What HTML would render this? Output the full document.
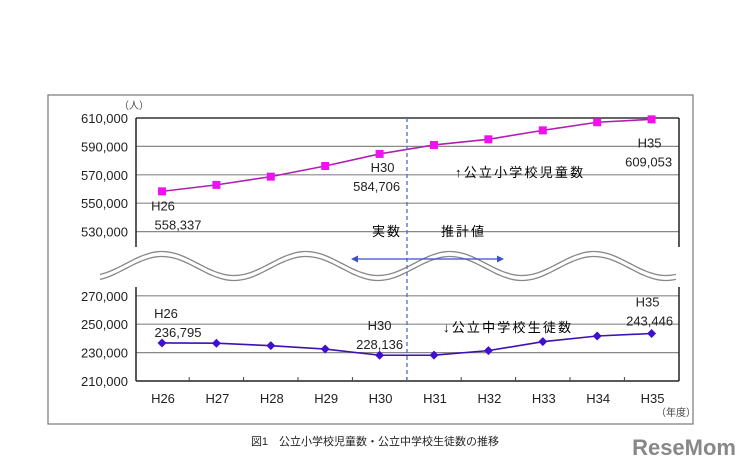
<!DOCTYPE html>
<html><head><meta charset="utf-8"><style>
html,body{margin:0;padding:0;background:#fff;}
svg text{font-family:"Liberation Sans","Noto Sans CJK JP",sans-serif;}
</style></head><body>
<svg width="746" height="468" viewBox="0 0 746 468" xmlns="http://www.w3.org/2000/svg">
<rect x="48" y="95" width="645" height="329" fill="#fff" stroke="#777" stroke-width="1.2"/>
<g id="wave"></g>
<g id="topg"></g>
<g id="botg"></g>
<line x1="407" y1="118" x2="407" y2="381" stroke="#4a6fc0" stroke-width="1.3" stroke-dasharray="4,3"/>
<g>
<line x1="356" y1="259" x2="499" y2="259" stroke="#3b4fc8" stroke-width="1.3"/>
<polygon points="351,259 358,255.5 358,262.5" fill="#3b4fc8"/>
<polygon points="504,259 497,255.5 497,262.5" fill="#3b4fc8"/>
</g>
<text x="372" y="236" font-size="13" letter-spacing="2">実数</text>
<text x="441" y="236" font-size="13" letter-spacing="2">推計値</text>
<text x="455" y="177" font-size="13" letter-spacing="2.2">↑公立小学校児童数</text>
<text x="443" y="332" font-size="13" letter-spacing="2.2">↓公立中学校生徒数</text>
<text x="119" y="109" font-size="10" fill="#444">（人）</text>
<text x="656" y="416" font-size="10" fill="#444">（年度）</text>
<text x="375" y="445" font-size="11" text-anchor="middle" fill="#222">図1　公立小学校児童数・公立中学校生徒数の推移</text>
<text x="736" y="455" font-size="22" font-weight="bold" text-anchor="end" fill="#888">ReseMom</text>
</svg>
<script>
const years=["H26","H27","H28","H29","H30","H31","H32","H33","H34","H35"];
const elementary=[558337,562900,568700,576200,584706,591000,595000,601300,607000,609053];
const juniorHigh=[236795,236600,234900,232500,228136,228200,231400,237700,241700,243446];
const topTicks=[530000,550000,570000,590000,610000];
const botTicks=[210000,230000,250000,270000];
const NS="http://www.w3.org/2000/svg";
function mk(p,t,a){const e=document.createElementNS(NS,t);for(const k in a)e.setAttribute(k,a[k]);p.appendChild(e);return e;}
const X0=136,X1=679;
const xs=i=>162+i*54.4;
const yTop=v=>118+(610000-v)/20000*28.4;
const yBot=v=>381-(v-210000)/20000*28.4;
function lab(p,x,y,s,name){const t=mk(p,'text',{x:x,y:y,'font-size':13,'text-anchor':'middle',fill:'#222'});t.textContent=s;
 
 }
const topG=document.getElementById('topg');
topTicks.forEach(t=>{const y=yTop(t);
 const l=mk(topG,'line',{x1:X0,x2:X1,y1:y,y2:y,stroke:t==610000?'#333':'#888','stroke-width':t==610000?1.5:1.2});
 
 
 const tx=mk(topG,'text',{x:X0-8,y:y+5,'font-size':13,'text-anchor':'end',fill:'#222'});tx.textContent=t.toLocaleString('en-US');
 
 
});
mk(topG,'line',{x1:X0,x2:X0,y1:118,y2:247,stroke:'#222','stroke-width':1.5});
mk(topG,'line',{x1:X1,x2:X1,y1:118,y2:247,stroke:'#222','stroke-width':1.5});
const pl=mk(topG,'polyline',{points:elementary.map((v,i)=>xs(i)+','+yTop(v)).join(' '),fill:'none',stroke:'#b020b0','stroke-width':1.6});


elementary.forEach((v,i)=>{const r=mk(topG,'rect',{x:xs(i)-4,y:yTop(v)-4,width:8,height:8,fill:'#f010f0'});
 
 });
lab(topG,xs(0)+1,yTop(elementary[0])+19,years[0],'value-label');
lab(topG,xs(0)+16,yTop(elementary[0])+38,elementary[0].toLocaleString('en-US'),'value-label');
lab(topG,xs(4)+3,yTop(elementary[4])+18,years[4],'value-label');
lab(topG,xs(4)-3,yTop(elementary[4])+37,elementary[4].toLocaleString('en-US'),'value-label');
lab(topG,xs(9)-2,yTop(elementary[9])+28,years[9],'value-label');
lab(topG,xs(9)-3,yTop(elementary[9])+47,elementary[9].toLocaleString('en-US'),'value-label');
const botG=document.getElementById('botg');
botTicks.forEach(t=>{const y=yBot(t);
 const l=mk(botG,'line',{x1:X0,x2:X1,y1:y,y2:y,stroke:t==210000?'#222':'#888','stroke-width':t==210000?1.5:1.2});
 
 
 const tx=mk(botG,'text',{x:X0-8,y:y+5,'font-size':13,'text-anchor':'end',fill:'#222'});tx.textContent=t.toLocaleString('en-US');
 
 
});
mk(botG,'line',{x1:X0,x2:X0,y1:287,y2:381,stroke:'#222','stroke-width':1.5});
mk(botG,'line',{x1:X1,x2:X1,y1:287,y2:381,stroke:'#222','stroke-width':1.5});
for(let i=1;i<years.length;i++){mk(botG,'line',{x1:xs(i)-27.2,x2:xs(i)-27.2,y1:377,y2:381,stroke:'#444'});}
years.forEach((s,i)=>lab(botG,xs(i)+1,403,s,'x-tick-label'));
const pl2=mk(botG,'polyline',{points:juniorHigh.map((v,i)=>xs(i)+','+yBot(v)).join(' '),fill:'none',stroke:'#4010b0','stroke-width':1.6});


juniorHigh.forEach((v,i)=>{const y=yBot(v),x=xs(i);const d=mk(botG,'polygon',{points:`${x},${y-4.5} ${x+4.5},${y} ${x},${y+4.5} ${x-4.5},${y}`,fill:'#4010d0'});
 
 });
lab(botG,xs(0)+4,yBot(juniorHigh[0])-25,years[0],'value-label');
lab(botG,xs(0)+16,yBot(juniorHigh[0])-6,juniorHigh[0].toLocaleString('en-US'),'value-label');
lab(botG,xs(4),yBot(juniorHigh[4])-25,years[4],'value-label');
lab(botG,xs(4),yBot(juniorHigh[4])-6,juniorHigh[4].toLocaleString('en-US'),'value-label');
lab(botG,xs(9)-4,yBot(juniorHigh[9])-27,years[9],'value-label');
lab(botG,xs(9)-2,yBot(juniorHigh[9])-8,juniorHigh[9].toLocaleString('en-US'),'value-label');
const wv=document.getElementById('wave');
function wpath(off){let d='';for(let x=100;x<=677;x+=3){const y=266+off-12*Math.cos((x-162)/144*2*Math.PI);d+=(x==100?'M':'L')+x+','+y.toFixed(1);}return d;}
mk(wv,'path',{d:wpath(-2.5),fill:'none',stroke:'#888','stroke-width':1.3});
mk(wv,'path',{d:wpath(2.5),fill:'none',stroke:'#888','stroke-width':1.3});
</script>
</body></html>
